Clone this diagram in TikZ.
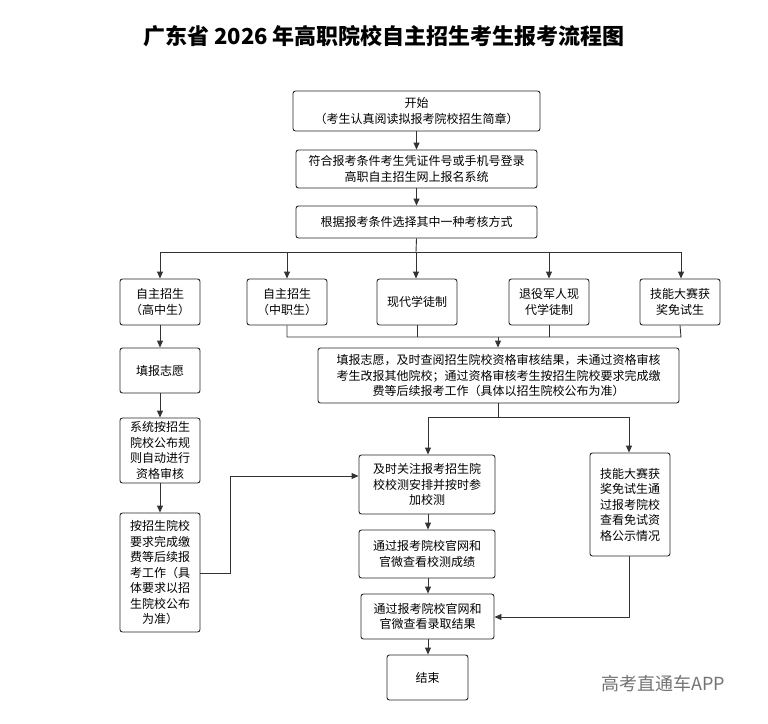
\documentclass[tikz,border=0pt]{standalone}
\usepackage{fontspec}
\setmainfont{Noto Sans CJK SC}
\usetikzlibrary{arrows.meta}
\begin{document}
\begin{tikzpicture}[x=1pt,y=-1pt,
  box/.style={draw=black!85,line width=0.9pt,rounded corners=2.5pt,inner sep=0pt,align=center,font=\fontsize{12}{15.5}\selectfont},
  ar/.style={draw=black!80,line width=0.9pt,-{Triangle[length=7pt,width=6pt]}},
  ln/.style={draw=black!80,line width=0.9pt}]
\useasboundingbox (0,0) rectangle (768,723);
\newcommand{\bx}[6]{\node[box,minimum width=#4-#2,minimum height=#5-#3] (#1) at ({(#2+#4)/2},{(#3+#5)/2}) {#6};}
\node[font=\fontsize{22}{24}\selectfont\bfseries] (title) at (384,36) {广东省 2026 年高职院校自主招生考生报考流程图};
\bx{s}{293}{91}{540}{131}{开始\\（考生认真阅读拟报考院校招生简章）}
\bx{b2}{296}{150}{537}{188}{符合报考条件考生凭证件号或手机号登录\\高职自主招生网上报名系统}
\bx{b3}{296}{206}{537}{238}{根据报考条件选择其中一种考核方式}
\bx{r1}{120}{279}{200}{325}{自主招生\\（高中生）}
\bx{r2}{247}{279}{327}{325}{自主招生\\（中职生）}
\bx{r3}{377}{279}{457}{325}{现代学徒制}
\bx{r4}{509}{279}{589}{325}{退役军人现\\代学徒制}
\bx{r5}{640}{279}{720}{325}{技能大赛获\\奖免试生}
\bx{b6}{318}{348}{679}{403}{填报志愿，及时查阅招生院校资格审核结果，未通过资格审核\\考生改报其他院校；通过资格审核考生按招生院校要求完成缴\\费等后续报考工作（具体以招生院校公布为准）}
\bx{l1}{120}{348}{200}{393}{填报志愿}
\bx{l2}{120}{418}{200}{483}{系统按招生\\院校公布规\\则自动进行\\资格审核}
\bx{l3}{120}{513}{200}{632}{按招生院校\\要求完成缴\\费等后续报\\考工作（具\\体要求以招\\生院校公布\\为准）}
\bx{c1}{359}{455}{495}{514}{及时关注报考招生院\\校校测安排并按时参\\加校测}
\bx{c2}{359}{530}{495}{578}{通过报考院校官网和\\官微查看校测成绩}
\bx{c3}{361}{594}{494}{639}{通过报考院校官网和\\官微查看录取结果}
\bx{e}{387}{655}{468}{700}{结束}
\bx{k}{590}{453}{670}{556}{技能大赛获\\奖免试生通\\过报考院校\\查看免试资\\格公示情况}
\node[font=\fontsize{18}{20}\selectfont,text=black!55] (wm) at (663,684) {高考直通车APP};
\coordinate (t) at (416,252);
\draw[ar] (s.south) -- (b2.north);
\draw[ar] (b2.south) -- (b3.north);
\draw[ln] (b3.south) -- (t);
\draw[ln] (160,252) -- (681,252);
\foreach \n/\xx in {r1/160,r2/287,r3/416,r4/549,r5/681}{\draw[ar] (\xx,252) -- (\n.north -| \xx,0);}
\draw[ln] (r2.south) -- (287,337) -- (681,337) -- (r5.south);
\draw[ln] (r3.south) -- (417,337);
\draw[ln] (r4.south) -- (549,337);
\draw[ar] (498,337) -- (b6.north -| 498,0);
\draw[ar] (r1) -- (l1);
\draw[ar] (l1) -- (l2);
\draw[ar] (l2) -- (l3);
\draw[ln] (b6.south -| 498,0) -- (498,417);
\draw[ln] (428,417) -- (629,417);
\draw[ar] (428,417) -- (c1.north -| 428,0);
\draw[ar] (629,417) -- (k.north -| 629,0);
\draw[ar] (l3.east |- 0,573) -- (230,573) -- (230,476) -- (c1.west |- 0,476);
\draw[ar] (c1.south -| 428,0) -- (c2.north -| 428,0);
\draw[ar] (c2.south -| 428,0) -- (c3.north -| 428,0);
\draw[ar] (c3.south -| 428,0) -- (e.north -| 428,0);
\draw[ar] (k.south -| 629,0) -- (629,617) -- (c3.east |- 0,617);
\end{tikzpicture}
\end{document}
